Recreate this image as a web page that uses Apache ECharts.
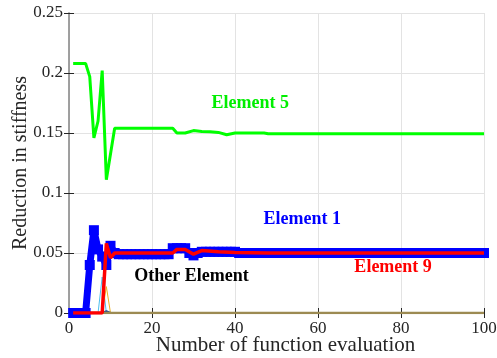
<!DOCTYPE html>
<html>
<head>
<meta charset="utf-8">
<script src="https://cdn.jsdelivr.net/npm/echarts@6/dist/echarts.min.js"></script>
<style>
  html, body { margin: 0; padding: 0; background: #fff; }
  #chart { width: 497px; height: 358px; }
</style>
</head>
<body>
<div id="chart"></div>
<script>
// Stiffness reduction per element versus number of function evaluations
const xTicks = [0, 20, 40, 60, 80, 100];
const yTicks = [0, 0.05, 0.1, 0.15, 0.2, 0.25];

// Element 5: [evaluation, reduction]
const element5 = [
  [1, 0.208], [4, 0.208], [5, 0.197], [6, 0.146], [7, 0.160], [8, 0.202],
  [9, 0.111], [11, 0.154], [25, 0.154], [26, 0.150], [28, 0.150], [30, 0.152],
  [32, 0.1513], [34, 0.151], [36, 0.1505], [38, 0.1486], [40, 0.150],
  [47, 0.150], [48, 0.1494], [100, 0.1494]
];

// Element 1: one value per evaluation (1..100)
const element1Values = [
  0, 0, 0, 0, 0.040, 0.069, 0.053, 0.047, 0.040, 0.056,
  0.050, 0.049, 0.049, 0.049, 0.049, 0.049, 0.049, 0.049, 0.049, 0.049,
  0.049, 0.049, 0.049, 0.049, 0.054, 0.054, 0.054, 0.054, 0.050, 0.048,
  0.050, 0.051, 0.051, 0.051, 0.051, 0.051, 0.051, 0.051, 0.051, 0.051,
  0.050, 0.050, 0.050, 0.050, 0.050, 0.050, 0.050, 0.050, 0.050, 0.050,
  0.050, 0.050, 0.050, 0.050, 0.050, 0.050, 0.050, 0.050, 0.050, 0.050,
  0.050, 0.050, 0.050, 0.050, 0.050, 0.050, 0.050, 0.050, 0.050, 0.050,
  0.050, 0.050, 0.050, 0.050, 0.050, 0.050, 0.050, 0.050, 0.050, 0.050,
  0.050, 0.050, 0.050, 0.050, 0.050, 0.050, 0.050, 0.050, 0.050, 0.050,
  0.050, 0.050, 0.050, 0.050, 0.050, 0.050, 0.050, 0.050, 0.050, 0.050
];

// Element 9: [evaluation, reduction]
const element9 = [
  [1, 0], [8, 0], [9, 0.058], [10, 0.046], [11, 0.050], [25, 0.050],
  [26, 0.053], [28, 0.053], [30, 0.049], [32, 0.052], [36, 0.051],
  [40, 0.0505], [48, 0.050], [100, 0.050]
];

// Remaining elements (mostly zero)
const otherCyan = [[1, 0], [7, 0], [8, 0.030], [9, 0], [100, 0]];
const otherYellow = [[1, 0], [8, 0], [9, 0.022], [10, 0], [100, 0]];
const otherNavy = [[8, 0], [9, 0.0015], [10, 0]];
const otherBase = [[1, 0], [100, 0]];

const element1 = element1Values.map((v, i) => [i + 1, v]);

const FONT = '"Liberation Serif", "Times New Roman", serif';
const chart = echarts.init(document.getElementById('chart'));

const axisCommon = {
  axisLine: { show: true, lineStyle: { color: '#9a9a9a', width: 1.5 } },
  axisTick: { show: true, inside: true, length: 5, lineStyle: { color: '#262626', width: 1 } },
  splitLine: { show: true, lineStyle: { color: '#e3e3e3', width: 1 } }
};

function line(data, color, width, extra) {
  return Object.assign({
    type: 'line', data: data, showSymbol: false, symbol: 'none',
    lineStyle: { color: color, width: width }, itemStyle: { color: color },
    silent: true, animation: false, z: 2
  }, extra || {});
}

chart.setOption({
  animation: false,
  backgroundColor: '#fff',
  grid: { left: 69, right: 13, top: 13, bottom: 45, containLabel: false, outerBoundsMode: 'none' },
  xAxis: [
    Object.assign({}, axisCommon, {
      type: 'value', min: 0, max: 100, interval: 20, position: 'bottom',
      name: 'Number of function evaluation', nameLocation: 'middle', nameGap: 22,
      nameMoveOverlap: false,
      nameTextStyle: { fontFamily: FONT, fontSize: 21, color: '#262626', padding: [0, 0, 0, 18] },
      axisLabel: { fontFamily: FONT, fontSize: 17, color: '#262626', margin: 7 }
    }),
    Object.assign({}, axisCommon, {
      type: 'value', min: 0, max: 100, interval: 20, position: 'top',
      axisLabel: { show: false }, splitLine: { show: false }
    })
  ],
  yAxis: [
    Object.assign({}, axisCommon, {
      type: 'value', min: 0, max: 0.25, interval: 0.05, position: 'left',
      name: 'Reduction in stiffness', nameLocation: 'middle', nameGap: 38, nameRotate: 90,
      nameMoveOverlap: false,
      nameTextStyle: { fontFamily: FONT, fontSize: 20, color: '#262626' },
      axisLabel: { fontFamily: FONT, fontSize: 17, color: '#262626', margin: 6,
        formatter: v => String(+v.toFixed(2)) }
    }),
    Object.assign({}, axisCommon, {
      type: 'value', min: 0, max: 0.25, interval: 0.05, position: 'right',
      axisLabel: { show: false }, splitLine: { show: false }
    })
  ],
  series: [
    line(element5, '#00ff00', 3),
    line(otherCyan, '#4dbeee', 1),
    line(otherYellow, '#edb120', 1),
    line(otherNavy, '#2b4c8c', 2),
    line(otherBase, '#9c8a52', 2.5),
    line(element1, '#0000ff', 7, {
      showSymbol: true, symbol: 'rect', symbolSize: 10, z: 3
    }),
    line(element9, '#ff0000', 3.5, { z: 4 })
  ]
});

// Element labels anchored in data coordinates
const labels = [
  { text: 'Element 5', at: [43.7, 0.1744], color: '#00ee00' },
  { text: 'Element 1', at: [56.2, 0.0778], color: '#0000ff' },
  { text: 'Element 9', at: [78.1, 0.0378], color: '#ff0000' },
  { text: 'Other Element', at: [29.5, 0.0303], color: '#000000' }
];
chart.setOption({
  graphic: labels.map(l => {
    const p = chart.convertToPixel({ xAxisIndex: 0, yAxisIndex: 0 }, l.at);
    return {
      type: 'text', x: p[0], y: p[1], z: 10,
      style: { text: l.text, fill: l.color, font: 'bold 18px ' + FONT,
        textAlign: 'center', textVerticalAlign: 'middle' }
    };
  })
});
</script>
</body>
</html>
